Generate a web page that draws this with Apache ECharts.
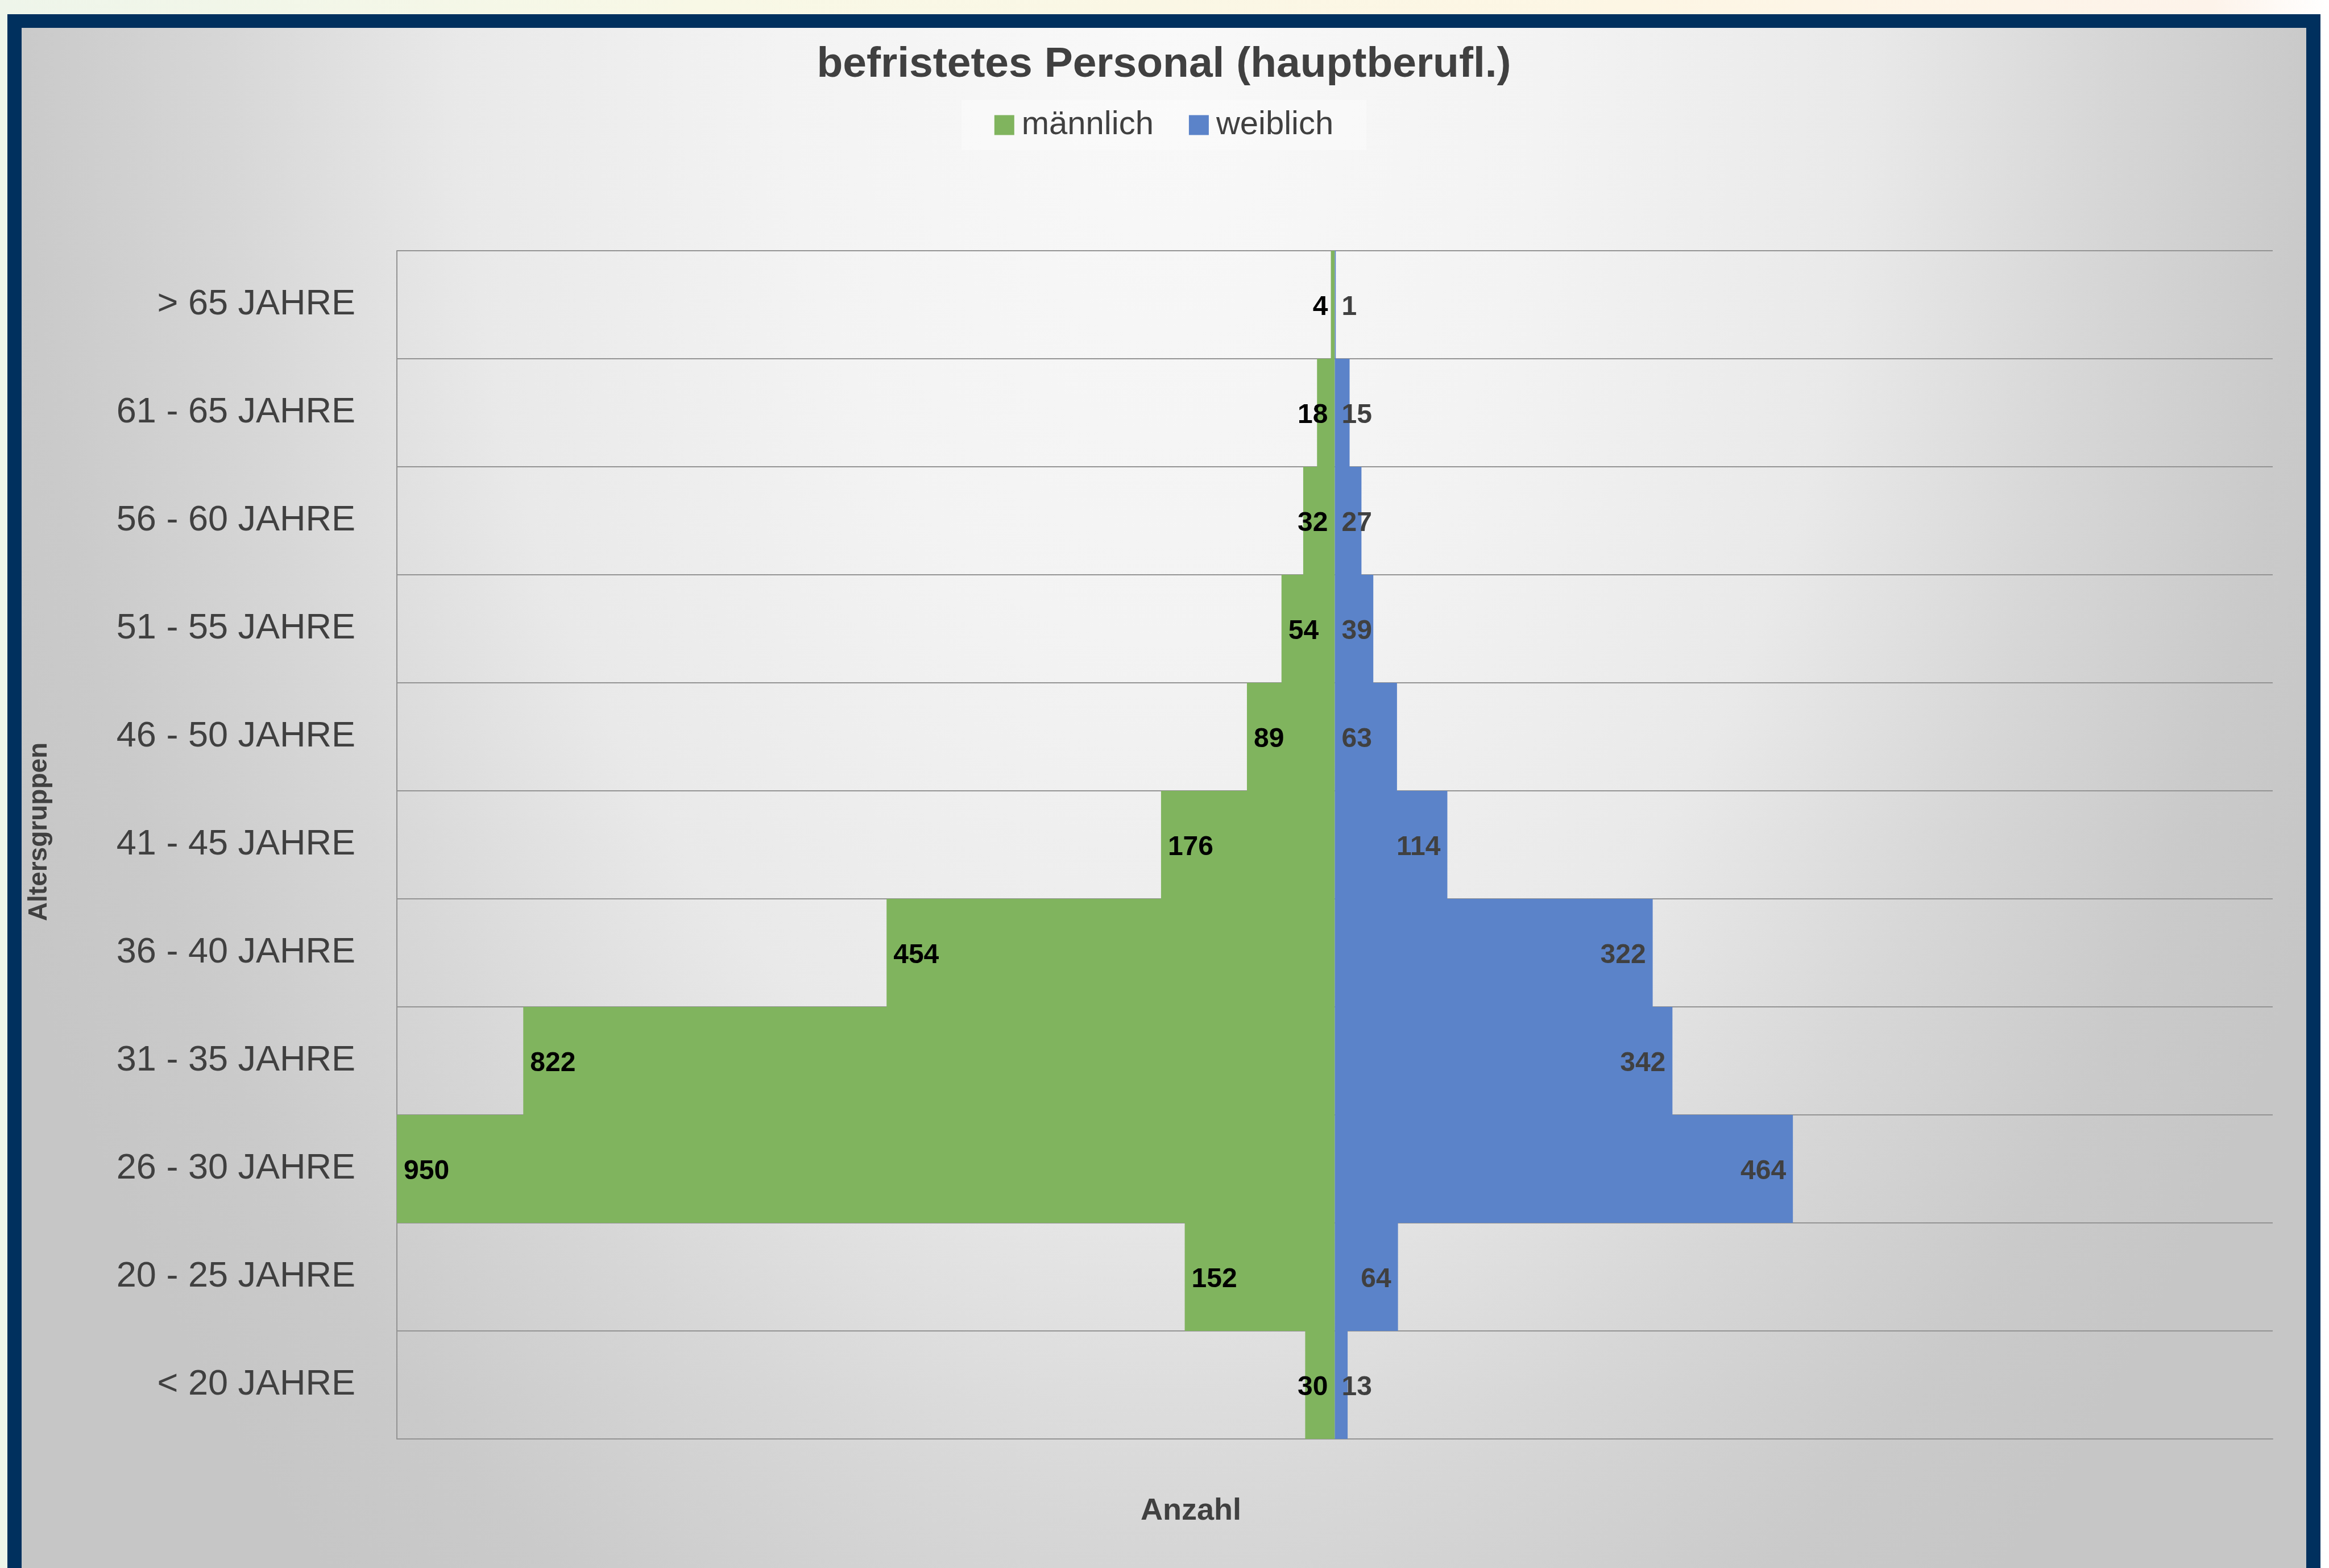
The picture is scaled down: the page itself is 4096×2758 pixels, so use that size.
<!DOCTYPE html>
<html>
<head>
<meta charset="utf-8">
<title>befristetes Personal (hauptberufl.)</title>
<script src="https://cdn.jsdelivr.net/npm/echarts@6/dist/echarts.min.js"></script>
<style>
    html, body {
        margin: 0;
        padding: 0;
        width: 4096px;
        height: 2758px;
        overflow: hidden;
        background: linear-gradient(90deg, #eef5ea 0%, #f8f8e6 30%, #fdf6e4 70%, #fdf3ea 95%, #ffffff 100%);
    }
    #frame {
        position: absolute;
        left: 13px;
        top: 25px;
        width: 4068px;
        height: 2800px;
        background: #00305e;
    }
    #charts {
        position: absolute;
        left: 38px;
        top: 49px;
        width: 4018px;
        height: 2709px;
        background: radial-gradient(2250px 3600px at 50% 0%, #f9f9f9 0%, #f3f3f3 30%, #e9e9e9 55%, #dfdfdf 65%, #d7d7d7 73%, #cacaca 89%, #c6c6c6 100%);
    }
</style>
</head>
<body>
<div id="frame"></div>
<div id="charts"></div>
<script>
// Declare data (top row first)
var age_groups = ['> 65 JAHRE', '61 - 65 JAHRE', '56 - 60 JAHRE', '51 - 55 JAHRE', '46 - 50 JAHRE',
    '41 - 45 JAHRE', '36 - 40 JAHRE', '31 - 35 JAHRE', '26 - 30 JAHRE', '20 - 25 JAHRE', '< 20 JAHRE'];
var arr_male = [4, 18, 32, 54, 89, 176, 454, 822, 950, 152, 30];
var arr_female = [1, 15, 27, 39, 63, 114, 322, 342, 464, 64, 13];
var axis_max = 950;

var font = "'Liberation Sans', Arial, sans-serif";
var text_col = '#404040';

// Male bars go to the left, labels show the count
var male_data = arr_male.map(function (v) {
    return {
        value: -v,
        label: {
            position: v < 50 ? 'insideRight' : 'insideLeft'
        }
    };
});
// Female labels: short bars keep the label next to the centre line
var female_data = arr_female.map(function (v) {
    return {
        value: v,
        label: {
            position: v < 64 ? 'insideLeft' : 'insideRight'
        }
    };
});

// Initialize chart
var charts = echarts.init(document.getElementById('charts'));
charts.setOption({
    backgroundColor: 'transparent',
    animation: false,
    textStyle: {
        fontFamily: font
    },
    title: {
        text: 'befristetes Personal (hauptberufl.)',
        left: 'center',
        top: 28,
        padding: 0,
        textStyle: {
            fontFamily: font,
            fontSize: 75,
            fontWeight: 'bold',
            color: text_col
        }
    },
    legend: {
        data: ['männlich', 'weiblich'],
        left: 'center',
        top: 127,
        padding: [15, 58],
        itemWidth: 35,
        itemHeight: 35,
        itemGap: 62,
        backgroundColor: 'rgba(255,255,255,0.3)',
        icon: 'rect',
        textStyle: {
            fontFamily: font,
            fontSize: 58,
            color: text_col,
            padding: [0, 0, 0, 8]
        }
    },
    grid: {
        left: 656,
        right: 59,
        top: 392,
        bottom: 227
    },
    xAxis: {
        type: 'value',
        min: -axis_max,
        max: axis_max,
        name: 'Anzahl',
        nameLocation: 'middle',
        nameGap: 100,
        nameTextStyle: {
            fontFamily: font,
            fontSize: 54,
            fontWeight: 'bold',
            color: text_col,
            padding: [0, 506, 0, 0]
        },
        axisLine: {
            show: true,
            lineStyle: {
                color: '#939393',
                width: 2
            }
        },
        axisTick: {
            show: false
        },
        axisLabel: {
            show: false
        },
        splitLine: {
            show: false
        }
    },
    yAxis: {
        type: 'category',
        inverse: true,
        data: age_groups,
        name: 'Altersgruppen',
        nameLocation: 'middle',
        nameGap: 606,
        nameRotate: 90,
        nameTextStyle: {
            fontFamily: font,
            fontSize: 46,
            fontWeight: 'bold',
            color: text_col,
            padding: [0, 0, 0, 46]
        },
        axisLine: {
            show: true,
            onZero: false,
            lineStyle: {
                color: '#939393',
                width: 2
            }
        },
        axisTick: {
            show: false
        },
        axisLabel: {
            margin: 73,
            fontFamily: font,
            fontSize: 63,
            color: text_col
        },
        splitLine: {
            show: true,
            lineStyle: {
                color: '#939393',
                width: 2
            }
        }
    },
    series: [{
        name: 'männlich',
        type: 'bar',
        data: male_data,
        barGap: '-100%',
        barCategoryGap: '0%',
        itemStyle: {
            color: '#80b45e'
        },
        label: {
            show: true,
            distance: 12,
            offset: [0, 5],
            fontFamily: font,
            fontSize: 48,
            fontWeight: 'bold',
            color: '#000000',
            formatter: function (params) {
                return Math.abs(params.value);
            }
        }
    }, {
        name: 'weiblich',
        type: 'bar',
        data: female_data,
        barGap: '-100%',
        barCategoryGap: '0%',
        itemStyle: {
            color: '#5b83c9'
        },
        label: {
            show: true,
            distance: 12,
            offset: [0, 5],
            fontFamily: font,
            fontSize: 48,
            fontWeight: 'bold',
            color: text_col
        }
    }]
});
</script>
</body>
</html>
